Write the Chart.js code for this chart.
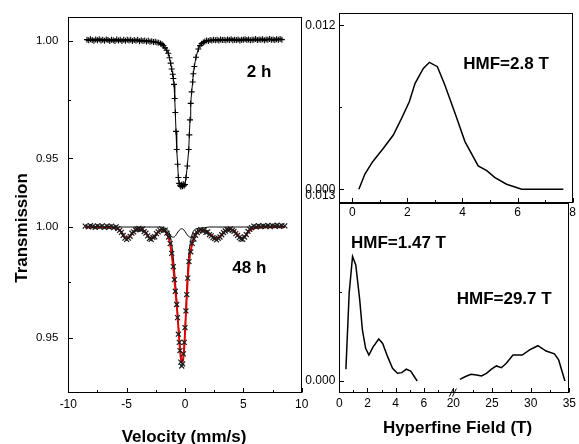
<!DOCTYPE html>
<html><head><meta charset="utf-8">
<script src="https://cdn.jsdelivr.net/npm/chart.js@4/dist/chart.umd.min.js"></script>
<style>
html,body{margin:0;padding:0;background:#fff;}
#wrap{position:relative;width:579px;height:444px;overflow:hidden;background:#fff;}
canvas{position:absolute;left:0;top:0;}
</style></head><body>
<div id="wrap">
<canvas id="cL" width="579" height="444"></canvas>
<canvas id="cTR" width="579" height="444"></canvas>
<canvas id="cBR" width="579" height="444"></canvas>
</div>
<script>
// ---------------- DATA ----------------
// 2 h spectrum (velocity mm/s, transmission)
const V2 = [-8.4,-8.25,-8.1,-7.95,-7.8,-7.65,-7.5,-7.35,-7.2,-7.05,-6.9,-6.75,-6.6,-6.45,-6.3,-6.15,-6.0,-5.85,-5.7,-5.55,-5.4,-5.25,-5.1,-4.95,-4.8,-4.65,-4.5,-4.35,-4.2,-4.05,-3.9,-3.75,-3.6,-3.45,-3.3,-3.15,-3.0,-2.85,-2.7,-2.55,-2.4,
 -2.25,-2.1,-1.97,-1.84,-1.71,-1.57,-1.43,-1.33,-1.23,-1.14,-1.05,-1.0,-0.94,-0.88,-0.83,-0.77,-0.71,-0.63,-0.57,-0.5,-0.43,-0.36,-0.29,-0.22,-0.15,-0.08,0.0,0.086,0.2,0.32,0.37,0.43,0.49,0.57,0.66,0.71,0.8,0.94,1.14,1.29,1.43,1.57,1.7,
 1.85,2.0,2.15,2.3,2.45,2.6,2.75,2.9,3.05,3.2,3.35,3.5,3.65,3.8,3.95,4.1,4.25,4.4,4.55,4.7,4.85,5.0,5.15,5.3,5.45,5.6,5.75,5.9,6.05,6.2,6.35,6.5,6.65,6.8,6.95,7.1,7.25,7.4,7.55,7.7,7.85,8.0,8.15,8.3];
const T2 = [1.0005,1.0002,1.0007,1.0003,1.0000,1.0006,1.0002,1.0007,1.0001,1.0005,1.0000,1.0006,1.0003,0.9999,1.0005,1.0002,0.9999,1.0006,1.0001,1.0004,0.9999,1.0004,1.0000,1.0005,1.0001,1.0004,0.9999,1.0003,1.0000,1.0004,0.9998,1.0002,0.9999,1.0001,0.9997,1.0000,0.9996,0.9998,0.9995,0.9996,0.9993,
 0.9992,0.9989,0.9985,0.9979,0.9970,0.9960,0.9947,0.9928,0.9905,0.9880,0.9858,0.9840,0.9815,0.9755,0.9695,0.9615,0.9538,0.9475,0.9419,0.9394,0.9386,0.9381,0.9388,0.9382,0.9390,0.9384,0.9389,0.9419,0.9468,0.9538,0.9600,0.9664,0.9734,0.9783,0.9825,0.9860,0.9891,0.9930,0.9965,0.9980,0.9988,0.9993,0.9997,
 1.0001,0.9999,1.0003,1.0001,1.0004,1.0002,1.0005,1.0001,1.0006,1.0003,1.0005,1.0002,1.0006,1.0003,1.0007,1.0002,1.0005,1.0003,1.0006,1.0001,1.0005,1.0004,1.0007,1.0003,1.0006,1.0002,1.0005,1.0004,1.0008,1.0003,1.0006,1.0004,1.0007,1.0002,1.0006,1.0005,1.0008,1.0004,1.0006,1.0003,1.0007,1.0005,1.0008,1.0005];

// 48 h spectrum: measured points
const V48 = [-8.55,-8.3,-8.1,-7.9,-7.7,-7.5,-7.3,-7.1,-6.9,-6.7,-6.5,-6.3,-6.1,-5.9,-5.75,
 -5.6,-5.45,-5.3,-5.15,-5.0,-4.85,-4.7,-4.55,-4.4,-4.25,-4.1,-3.95,-3.8,-3.65,-3.5,-3.35,-3.2,-3.05,-2.9,-2.75,-2.6,-2.45,-2.3,-2.15,-2.0,
 -1.85,-1.7,-1.55,-1.4,-1.27,-1.14,-1.0,-0.91,-0.83,-0.71,-0.64,-0.57,-0.49,-0.43,-0.36,-0.28,-0.2,-0.14,-0.06,0.0,0.08,0.15,0.23,0.34,0.49,0.62,0.76,0.9,1.05,1.2,
 1.35,1.5,1.65,1.8,1.95,2.1,2.25,2.4,2.55,2.7,2.85,3.0,3.15,3.3,3.45,3.6,3.75,3.9,4.05,4.2,4.35,4.5,4.65,4.8,4.95,5.1,5.25,5.4,5.55,5.7,
 5.9,6.1,6.3,6.5,6.7,6.9,7.1,7.3,7.5,7.7,7.9,8.1,8.3,8.55];
const T48 = [1.0004,1.0001,1.0006,1.0002,0.9999,1.0005,1.0001,1.0005,0.9998,1.0004,1.0000,1.0004,0.9997,1.0001,0.9993,
 0.9985,0.9976,0.9962,0.9950,0.9944,0.9950,0.9958,0.9972,0.9978,0.9988,0.9990,0.9994,0.9988,0.9991,0.9979,0.9972,0.9960,0.9948,0.9944,0.9953,0.9956,0.9970,0.9978,0.9986,0.9992,
 0.9985,0.9986,0.9972,0.9955,0.9925,0.9881,0.9821,0.9762,0.9710,0.9650,0.9591,0.9516,0.9479,0.9442,0.9390,0.9372,0.9382,0.9427,0.9479,0.9546,0.9621,0.9695,0.9769,0.9844,0.9888,0.9926,0.9946,0.9963,0.9975,0.9982,
 0.9988,0.9983,0.9986,0.9976,0.9978,0.9966,0.9960,0.9952,0.9948,0.9942,0.9949,0.9955,0.9965,0.9975,0.9982,0.9989,0.9987,0.9992,0.9985,0.9980,0.9970,0.9962,0.9952,0.9946,0.9944,0.9955,0.9966,0.9980,0.9990,0.9997,
 1.0004,1.0001,1.0006,1.0002,1.0005,1.0003,1.0007,1.0002,1.0006,1.0004,1.0008,1.0003,1.0006,1.0005];

// 48 h fit curves (velocity grid, total fit, doublet, sextet)
const VF = [-8.55,-8.0,-7.5,-7.0,-6.5,-6.0,-5.7,-5.5,-5.3,-5.15,-5.0,-4.85,-4.7,-4.5,-4.3,-4.1,-3.9,-3.7,-3.5,-3.3,-3.15,-3.0,-2.85,-2.7,-2.55,-2.4,-2.2,-2.0,-1.85,-1.7,
 -1.55,-1.4,-1.3,-1.2,-1.1,-1.0,-0.9,-0.8,-0.7,-0.6,-0.5,-0.4,-0.3,-0.2,-0.1,0.0,0.1,0.2,0.3,0.4,0.5,0.6,0.7,0.8,0.9,1.0,1.15,1.3,1.5,1.7,
 1.9,2.1,2.3,2.45,2.6,2.72,2.85,3.0,3.2,3.4,3.6,3.85,4.1,4.3,4.5,4.7,4.86,5.0,5.15,5.3,5.5,5.8,6.2,6.5,7.0,7.5,8.0,8.55];
const FIT48 = [1.0000,1.0000,1.0000,0.9999,0.9998,0.9995,0.9990,0.9980,0.9965,0.9953,0.9949,0.9952,0.9960,0.9973,0.9983,0.9989,0.9990,0.9988,0.9982,0.9970,0.9958,0.9951,0.9949,0.9952,0.9960,0.9970,0.9982,0.9988,0.9986,0.9980,
 0.9968,0.9950,0.9930,0.9900,0.9860,0.9815,0.9760,0.9700,0.9640,0.9570,0.9495,0.9430,0.9390,0.9392,0.9430,0.9520,0.9630,0.9735,0.9815,0.9865,0.9895,0.9920,0.9940,0.9955,0.9966,0.9974,0.9981,0.9985,0.9986,0.9983,
 0.9977,0.9970,0.9961,0.9955,0.9951,0.9949,0.9951,0.9957,0.9968,0.9980,0.9987,0.9990,0.9987,0.9978,0.9966,0.9955,0.9949,0.9951,0.9958,0.9969,0.9982,0.9992,0.9997,0.9999,1.0000,1.0000,1.0000,1.0000];
const DOUB48 = [1,1,1,1,1,1,1,1,1,1,1,1,1,1,1,1,1,1,1,1,1,1,1,1,1,1,1,1.0000,0.9997,0.9994,
 0.9989,0.9980,0.9966,0.9942,0.9905,0.9861,0.9804,0.9738,0.9670,0.9592,0.9510,0.9440,0.9398,0.9401,0.9443,0.9540,0.9658,0.9771,0.9857,0.9910,0.9941,0.9964,0.9979,0.9987,0.9991,0.9993,0.9994,0.9995,0.9996,0.9997,
 0.9999,1,1,1,1,1,1,1,1,1,1,1,1,1,1,1,1,1,1,1,1,1,1,1,1,1,1,1];
const SEXT48 = [1.0000,1.0000,1.0000,0.9999,0.9998,0.9995,0.9990,0.9980,0.9965,0.9953,0.9949,0.9952,0.9960,0.9973,0.9983,0.9989,0.9990,0.9988,0.9982,0.9970,0.9958,0.9951,0.9949,0.9952,0.9960,0.9970,0.9982,0.9988,0.9989,0.9986,
 0.9979,0.9970,0.9964,0.9958,0.9955,0.9954,0.9956,0.9962,0.9970,0.9978,0.9985,0.9990,0.9992,0.9991,0.9987,0.9980,0.9972,0.9964,0.9958,0.9955,0.9954,0.9956,0.9961,0.9968,0.9975,0.9981,0.9987,0.9990,0.9990,0.9986,
 0.9978,0.9970,0.9961,0.9955,0.9951,0.9949,0.9951,0.9957,0.9968,0.9980,0.9987,0.9990,0.9987,0.9978,0.9966,0.9955,0.9949,0.9951,0.9958,0.9969,0.9982,0.9992,0.9997,0.9999,1.0000,1.0000,1.0000,1.0000];

// Hyperfine field distributions (field T, probability)
const HF_2H = [0.24,0.46,0.74,1.13,1.49,1.79,2.07,2.28,2.58,2.80,3.09,3.36,3.73,4.09,4.57,4.88,5.18,5.60,6.15,7.66];
const P_2H  = [0,0.00112,0.00202,0.0030,0.00397,0.00519,0.00641,0.00775,0.00885,0.00929,0.00897,0.00763,0.00556,0.00349,0.00171,0.00136,0.00085,0.00037,0,0];
const HF_48L = [0.47,0.70,0.94,1.17,1.45,1.64,1.87,2.10,2.38,2.80,3.08,3.43,3.78,4.13,4.44,4.76,5.07,5.53];
const P_48L  = [0.00086,0.00642,0.00910,0.00849,0.00593,0.00373,0.00239,0.00190,0.00246,0.00307,0.00275,0.00178,0.00093,0.00056,0.00061,0.00086,0.00073,0];
const HF_48H = [20.86,21.5,22.27,23.0,23.64,24.28,24.93,25.57,26.21,26.85,27.71,28.91,29.86,30.93,32.0,33.07,33.62,34.43];
const P_48H  = [0.00012,0.00031,0.00049,0.00044,0.00037,0.00056,0.00086,0.00110,0.00097,0.00129,0.00190,0.00190,0.00227,0.00258,0.00219,0.00198,0.00154,0];

// Tick values
const VEL_MAJOR = [-10,-5,0,5,10], VEL_MINOR = [-7.5,-2.5,2.5,7.5];
const TR_MAJOR = [1.00,0.95], TR_MINOR = [0.975];
const HF_TOP_MAJOR = [0,2,4,6,8], HF_TOP_MINOR = [1,3,5,7];
const P_TOP_MAJOR = [0,0.012], P_TOP_MINOR = [0.006];
const HF_BOT_MAJOR = [0,2,4,6,20,25,30,35], HF_BOT_MINOR = [1,3,5,7,22.5,27.5,32.5];
const P_BOT_MAJOR = [0,0.013], P_BOT_MINOR = [0.0065];

// ---------------- SETUP ----------------
const FONT = '"Liberation Sans", Arial, Helvetica, sans-serif';
Chart.defaults.font.family = FONT;
Chart.defaults.color = '#000';

// left panel: two stacked spectra share one vertical scale
const TOP_OFF = 1.0841, TOP_SCALE = 1.0625;
const topY = t => TOP_OFF + (t - 1) * TOP_SCALE;
const botY = t => t;
// bottom right: broken field axis
const BRK = 8.1, RATIO = 0.549;
const brX = f => (f < 15 ? f : BRK + (f - 20) * RATIO);

function mkTicks(major, minor, map, fmt) {
  const out = [];
  major.forEach(v => out.push({value: map(v), lbl: fmt(v), mn: false}));
  minor.forEach(v => out.push({value: map(v), lbl: '', mn: true}));
  return out;
}
function axis(o) {
  return {
    type: 'linear', min: o.min, max: o.max,
    grid: {display: false, drawTicks: false},
    border: {display: false},
    ticks: {autoSkip: false, maxRotation: 0, padding: o.pad, font: {size: o.fs}, color: '#000',
      callback: function (v, i, t) { return (t && t[i] && t[i].lbl !== undefined) ? t[i].lbl : ''; }},
    afterBuildTicks: s => { s.ticks = o.ticks().sort((a, b) => a.value - b.value); },
    afterFit: s => { if (s.isHorizontal()) s.height = o.size; else s.width = o.size; }
  };
}
function pts(xs, ys, fx, fy) {
  const n = Math.min(xs.length, ys.length), out = [];
  for (let i = 0; i < n; i++) out.push({x: fx(xs[i]), y: fy(ys[i])});
  return out;
}
function framePlugin(texts, extra) {
  return {
    id: 'frame',
    afterDraw(chart) {
      const {ctx, chartArea: a} = chart;
      ctx.save();
      ctx.strokeStyle = '#000'; ctx.lineWidth = 1;
      const L = Math.round(a.left) + 0.5, R = Math.round(a.right) - 0.5;
      const T = Math.round(a.top) + 0.5, B = Math.round(a.bottom) - 0.5;
      ctx.strokeRect(L, T, R - L, B - T);
      Object.values(chart.scales).forEach(s => {
        s.ticks.forEach(t => {
          const len = t.mn ? 2.5 : 4.5;
          const p = Math.round(s.getPixelForValue(t.value)) + 0.5;
          ctx.beginPath();
          if (s.isHorizontal()) { ctx.moveTo(p, B); ctx.lineTo(p, B - len); }
          else { ctx.moveTo(L, p); ctx.lineTo(L + len, p); }
          ctx.stroke();
        });
      });
      ctx.fillStyle = '#000';
      texts.forEach(tx => {
        ctx.save();
        ctx.font = tx.font;
        ctx.textAlign = tx.align || 'left';
        ctx.textBaseline = 'alphabetic';
        ctx.translate(tx.x, tx.y);
        if (tx.rot) ctx.rotate(tx.rot);
        ctx.fillText(tx.t, 0, 0);
        ctx.restore();
      });
      if (extra) extra(chart, ctx, B);
      ctx.restore();
    }
  };
}
const common = {
  responsive: false, animation: false, devicePixelRatio: 1,
  plugins: {legend: {display: false}, tooltip: {enabled: false}},
  elements: {line: {tension: 0}},
};

// ---------------- LEFT PANEL ----------------
new Chart(document.getElementById('cL'), {
  type: 'line',
  data: {datasets: [
    {data: pts(V48, T48, v => v, botY), showLine: false, pointStyle: 'crossRot', pointRadius: 3.5,
     pointBorderWidth: 1.2, pointBorderColor: '#1a1a1a', pointBackgroundColor: '#1a1a1a', borderColor: '#1a1a1a'},
    {data: pts(VF, FIT48, v => v, botY), borderColor: '#e00000', borderWidth: 2, pointRadius: 0, cubicInterpolationMode: 'monotone'},
    {data: pts(VF, DOUB48, v => v, botY), borderColor: '#000', borderWidth: 1, pointRadius: 0, cubicInterpolationMode: 'monotone'},
    {data: pts(VF, SEXT48, v => v, botY), borderColor: '#000', borderWidth: 1, pointRadius: 0, cubicInterpolationMode: 'monotone'},
    {data: pts(V2, T2, v => v, topY), borderColor: '#000', borderWidth: 1, pointStyle: 'cross', pointRadius: 3,
     pointBorderWidth: 1.1, pointBorderColor: '#000'}
  ]},
  options: Object.assign({}, common, {
    layout: {padding: {left: 8.3, right: 277.3, top: 12.5, bottom: 20.7}},
    scales: {
      x: axis({min: -10, max: 10, pad: 4, fs: 12, size: 30,
        ticks: () => mkTicks(VEL_MAJOR, VEL_MINOR, v => v, v => String(v))}),
      y: axis({min: 0.9249, max: 1.0949, pad: 10, fs: 11.5, size: 60,
        ticks: () => mkTicks(TR_MAJOR, TR_MINOR, topY, v => v.toFixed(2))
          .concat(mkTicks(TR_MAJOR, TR_MINOR, botY, v => v.toFixed(2)))})
    }
  }),
  plugins: [framePlugin([
    {t: '2 h', x: 246.7, y: 76.7, font: 'bold 17px ' + FONT},
    {t: '48 h', x: 232.3, y: 273.3, font: 'bold 17px ' + FONT},
    {t: 'Transmission', x: 26.5, y: 228, font: 'bold 17px ' + FONT, align: 'center', rot: -Math.PI / 2},
    {t: 'Velocity (mm/s)', x: 184, y: 442, font: 'bold 17px ' + FONT, align: 'center'}
  ])]
});

// ---------------- TOP RIGHT ----------------
new Chart(document.getElementById('cTR'), {
  type: 'line',
  data: {datasets: [
    {data: pts(HF_2H, P_2H, v => v, v => v), borderColor: '#000', borderWidth: 1.5, pointRadius: 0}
  ]},
  options: Object.assign({}, common, {
    layout: {padding: {left: 279.3, right: 6.3, top: 12.7, bottom: 210.7}},
    scales: {
      x: axis({min: -0.47, max: 8, pad: 2, fs: 12, size: 30,
        ticks: () => mkTicks(HF_TOP_MAJOR, HF_TOP_MINOR, v => v, v => String(v))}),
      y: axis({min: -0.001024, max: 0.012922, pad: 4, fs: 12, size: 60,
        ticks: () => mkTicks(P_TOP_MAJOR, P_TOP_MINOR, v => v, v => v.toFixed(3))})
    }
  }),
  plugins: [framePlugin([
    {t: 'HMF=2.8 T', x: 463.3, y: 69.3, font: 'bold 17px ' + FONT}
  ])]
});

// ---------------- BOTTOM RIGHT ----------------
new Chart(document.getElementById('cBR'), {
  type: 'line',
  data: {datasets: [
    {data: pts(HF_48L, P_48L, brX, v => v), borderColor: '#000', borderWidth: 1.5, pointRadius: 0},
    {data: pts(HF_48H, P_48H, brX, v => v), borderColor: '#000', borderWidth: 1.5, pointRadius: 0}
  ]},
  options: Object.assign({}, common, {
    layout: {padding: {left: 279.3, right: 6.3, top: 203.3, bottom: 21}},
    scales: {
      x: axis({min: 0, max: BRK + 15 * RATIO, pad: 3, fs: 12, size: 30,
        ticks: () => mkTicks(HF_BOT_MAJOR, HF_BOT_MINOR, brX, v => String(v))}),
      y: axis({min: -0.00088, max: 0.013, pad: 4, fs: 12, size: 60,
        ticks: () => mkTicks(P_BOT_MAJOR, P_BOT_MINOR, v => v, v => v === 0.013 ? ['0.013', ''] : v.toFixed(3))})
    }
  }),
  plugins: [framePlugin([
    {t: 'HMF=1.47 T', x: 351, y: 248.3, font: 'bold 17px ' + FONT},
    {t: 'HMF=29.7 T', x: 456.7, y: 304.3, font: 'bold 17px ' + FONT},
    {t: 'Hyperfine Field (T)', x: 457.5, y: 433, font: 'bold 17px ' + FONT, align: 'center'}
  ], (chart, ctx, B) => {
    const px = chart.scales.x.getPixelForValue(BRK);
    ctx.lineWidth = 1;
    ctx.beginPath();
    ctx.moveTo(px - 4, B + 4); ctx.lineTo(px, B - 4);
    ctx.moveTo(px - 1, B + 4); ctx.lineTo(px + 3, B - 4);
    ctx.stroke();
  })]
});
</script></body></html>
